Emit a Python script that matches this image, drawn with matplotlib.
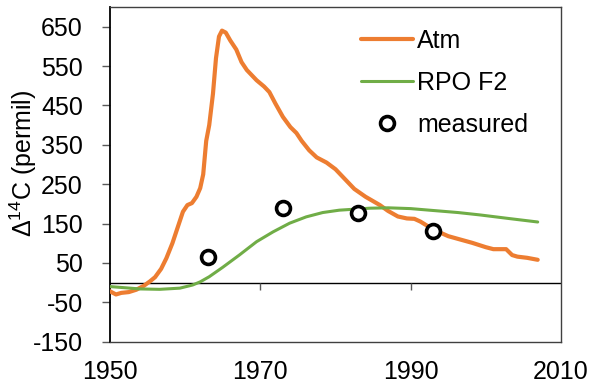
import numpy as np
import matplotlib
matplotlib.use("Agg")
import matplotlib.pyplot as plt

plt.rcParams["font.family"] = ["Liberation Sans", "DejaVu Sans"]
plt.rcParams["mathtext.fontset"] = "custom"
plt.rcParams["mathtext.rm"] = "Liberation Sans"
plt.rcParams["axes.unicode_minus"] = False

# ---- data ----
atm_year = [1950.0, 1950.8, 1951.5, 1952.5, 1953.5, 1954.5, 1955.3, 1956.0, 1956.8,
            1957.5, 1958.3, 1959.0, 1959.7, 1960.3, 1960.9, 1961.5, 1962.0, 1962.4,
            1962.8, 1963.2, 1963.7, 1964.1, 1964.5, 1964.9, 1965.4, 1966.0, 1966.8,
            1967.5, 1968.2, 1969.5, 1970.5, 1971.2, 1972.0, 1973.0, 1974.0, 1974.8,
            1975.5, 1976.5, 1977.5, 1978.8, 1980.0, 1981.0, 1981.9, 1982.5, 1984.0,
            1985.9, 1987.0, 1988.3, 1989.5, 1990.5, 1991.3, 1993.0, 1995.0, 1996.5,
            1998.2, 2000.0, 2001.0, 2002.7, 2003.5, 2004.2, 2005.5, 2006.9]
atm_d14c = [-22, -30, -26, -24, -18, -8, 3, 14, 35,
            62, 100, 140, 180, 197, 202, 218, 240, 275,
            360, 400, 480, 570, 625, 640, 635, 615, 592,
            560, 540, 514, 498, 484, 455, 421, 395, 380,
            360, 336, 318, 305, 288, 268, 250, 238, 218,
            197, 182, 168, 163, 162, 155, 135, 118, 110,
            101, 90, 85, 85, 70, 66, 63, 58]

rpo_year = [1950.0, 1952.0, 1954.0, 1956.6, 1959.3, 1961.0, 1962.0, 1963.2, 1965.0,
            1967.2, 1969.5, 1971.7, 1973.9, 1976.1, 1978.3, 1980.5, 1984.5, 1987.0,
            1990.0, 1992.5, 1996.3, 1999.2, 2003.0, 2006.9]
rpo_d14c = [-10, -13, -16, -17, -14, -6, 2, 15, 39,
            70, 104, 129, 151, 167, 178, 184, 189, 190,
            188, 184, 178, 172, 163, 154]

meas_year = [1963, 1973, 1983, 1993]
meas_d14c = [65, 190, 176, 130]

xticks = [1950, 1970, 1990, 2010]
yticks = np.arange(-150, 651, 100)

# ---- plot ----
fig = plt.figure(figsize=(5.95, 3.91), dpi=100)
ax = fig.add_axes([110 / 595, 49.3 / 391, 451 / 595, 334.7 / 391])

ax.plot(atm_year, atm_d14c, color="#ED7D31", lw=3.0, solid_capstyle="round",
        solid_joinstyle="round", label="Atm", zorder=3)
ax.plot(rpo_year, rpo_d14c, color="#70AD47", lw=2.2, solid_capstyle="round",
        label="RPO F2", zorder=3)
ax.plot(meas_year, meas_d14c, "o", ms=10, mfc="white", mec="black", mew=2.6,
        linestyle="none", label="measured", zorder=4)

# zero line with its small tick marks
ax.axhline(0, color="black", lw=1.0, zorder=2)
ax.vlines(xticks[1:-1], -18, 0, color="#595959", lw=1.0, zorder=2)

ax.set_xlim(1950, 2010)
ax.set_ylim(-150, 700)
ax.set_xticks(xticks)
ax.set_yticks(yticks)
ax.tick_params(axis="x", length=0, pad=13, labelsize=18)
ax.tick_params(axis="y", direction="out", length=6, width=1.0, color="#595959",
               pad=13.5, labelsize=18)

for side in ["top", "right", "bottom"]:
    ax.spines[side].set_color("#404040")
    ax.spines[side].set_linewidth(1.0)
ax.spines["left"].set_color("black")
ax.spines["left"].set_linewidth(1.3)

fig.text(23 / 595, 1 - 163.5 / 391, r"$\Delta^{14}$C (permil)", rotation=90,
         ha="center", va="center", fontsize=18)

ax.legend(loc="upper left", bbox_to_anchor=(0.556, 0.935), frameon=False,
          fontsize=18, handlelength=2.1, handletextpad=0.16,
          labelspacing=0.72, borderpad=0, borderaxespad=0)

fig.savefig("out.png", dpi=100)
